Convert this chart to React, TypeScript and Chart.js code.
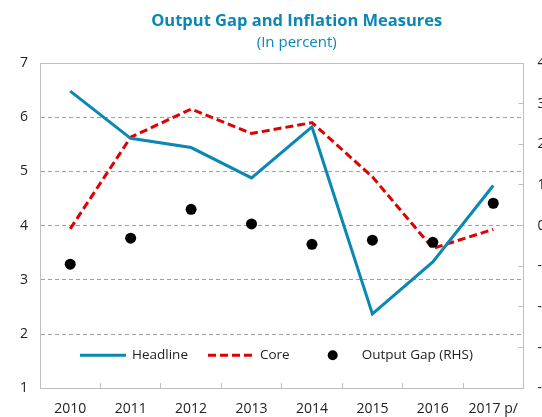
import React, { useEffect, useRef } from "react";
import { Chart, registerables } from "chart.js";

Chart.register(...registerables);

const years = ["2010", "2011", "2012", "2013", "2014", "2015", "2016", "2017 p/"];
const headline = [6.48, 5.61, 5.44, 4.88, 5.82, 2.37, 3.33, 4.74];
const core = [3.94, 5.63, 6.15, 5.7, 5.9, 4.9, 3.58, 3.93];
const outputGap = [-0.95, -0.31, 0.4, 0.04, -0.46, -0.36, -0.41, 0.55];
const leftRange = [1, 7];
const rightRange = [-4, 4];
const titleText = "Output Gap and Inflation Measures";
const subtitleText = "(In percent)";

const BLUE = "#0a87b4";
const RED = "#e00000";
const FRAME = "#bfbfbf";
const FONT = "'Open Sans', 'DejaVu Sans', sans-serif";

const framePlugin = {
  id: "frame",
  beforeDatasetsDraw(chart: any) {
    const { ctx, chartArea } = chart;
    ctx.save();
    ctx.strokeStyle = FRAME;
    ctx.lineWidth = 1;
    ctx.setLineDash([]);
    ctx.strokeRect(
      Math.round(chartArea.left) + 0.5,
      Math.round(chartArea.top) + 0.5,
      Math.round(chartArea.right - chartArea.left),
      Math.round(chartArea.bottom - chartArea.top)
    );
    ctx.restore();
  },
};

const titlePlugin = {
  id: "titles",
  afterDraw(chart: any) {
    const { ctx, chartArea } = chart;
    const cx = (chartArea.left + chartArea.right) / 2 + 15;
    ctx.save();
    ctx.fillStyle = BLUE;
    ctx.textAlign = "center";
    ctx.textBaseline = "alphabetic";
    ctx.font = `bold 16.5px ${FONT}`;
    ctx.fillText(titleText, cx, chartArea.top - 37);
    ctx.font = `15px ${FONT}`;
    ctx.fillText(subtitleText, cx, chartArea.top - 16.5);
    ctx.restore();
  },
};

const legendPlugin = {
  id: "innerLegend",
  afterDraw(chart: any) {
    const { ctx, chartArea } = chart;
    const y = chartArea.bottom - 33;
    let x = chartArea.left + 40;
    ctx.save();
    ctx.font = `13.5px ${FONT}`;
    ctx.textBaseline = "middle";
    ctx.textAlign = "left";
    chart.data.datasets.forEach((ds: any) => {
      if (ds.showLine === false) {
        ctx.fillStyle = ds.backgroundColor;
        ctx.beginPath();
        ctx.arc(x + 23, y, 5, 0, Math.PI * 2);
        ctx.fill();
      } else {
        ctx.strokeStyle = ds.borderColor;
        ctx.lineWidth = ds.borderWidth;
        ctx.setLineDash(ds.borderDash || []);
        ctx.beginPath();
        ctx.moveTo(x, y);
        ctx.lineTo(x + 46, y);
        ctx.stroke();
        ctx.setLineDash([]);
      }
      x += 52;
      ctx.fillStyle = "#222";
      ctx.fillText(ds.label, x, y);
      x += ctx.measureText(ds.label).width + 20;
    });
    ctx.restore();
  },
};

export default function App() {
  const ref = useRef<HTMLCanvasElement>(null);

  useEffect(() => {
    document.documentElement.style.overflow = "hidden";
    document.body.style.margin = "0";
    document.body.style.overflow = "hidden";
    const canvas = ref.current;
    if (!canvas) return;
    const chart = new Chart(canvas, {
      type: "line",
      data: {
        labels: years,
        datasets: [
          {
            label: "Headline",
            data: headline,
            borderColor: BLUE,
            backgroundColor: BLUE,
            borderWidth: 3,
            pointRadius: 0,
            yAxisID: "y",
            order: 1,
          },
          {
            label: "Core",
            data: core,
            borderColor: RED,
            backgroundColor: RED,
            borderWidth: 3,
            borderDash: [8, 4],
            pointRadius: 0,
            yAxisID: "y",
            order: 2,
          },
          {
            label: "Output Gap (RHS)",
            data: outputGap,
            showLine: false,
            borderColor: "#000",
            backgroundColor: "#000",
            pointRadius: 5.5,
            pointBorderWidth: 0,
            yAxisID: "y1",
            order: 0,
          } as any,
        ],
      },
      options: {
        responsive: false,
        animation: false,
        devicePixelRatio: 1,
        layout: { autoPadding: false, padding: { left: 8, right: 23, top: 63, bottom: -17 } },
        plugins: {
          legend: { display: false },
          tooltip: { enabled: false },
          title: { display: false },
          subtitle: { display: false },
        },
        scales: {
          x: {
            offset: true,
            grid: {
              drawOnChartArea: false,
              offset: true,
              tickLength: -5,
              color: FRAME,
            },
            border: { color: FRAME },
            ticks: { color: "#222", font: { family: FONT, size: 14 }, padding: 17, maxRotation: 0 },
          },
          y: {
            position: "left",
            min: leftRange[0],
            max: leftRange[1],
            ticks: { stepSize: 1, color: "#222", font: { family: FONT, size: 14 }, padding: 12 },
            grid: { color: "#a0a0a0", drawTicks: false },
            border: { color: FRAME, dash: [4, 3] },
          },
          y1: {
            position: "right",
            min: rightRange[0],
            max: rightRange[1],
            ticks: { stepSize: 1, color: "#222", font: { family: FONT, size: 14 }, padding: 19 },
            grid: { drawOnChartArea: false, tickLength: -5, color: FRAME },
            border: { color: FRAME },
          },
        },
      },
      plugins: [framePlugin, legendPlugin, titlePlugin],
    } as any);
    return () => chart.destroy();
  }, []);

  return (
    <div style={{ width: 542, height: 417, overflow: "hidden" }}>
      <canvas ref={ref} width={592} height={417} style={{ display: "block" }} />
    </div>
  );
}
